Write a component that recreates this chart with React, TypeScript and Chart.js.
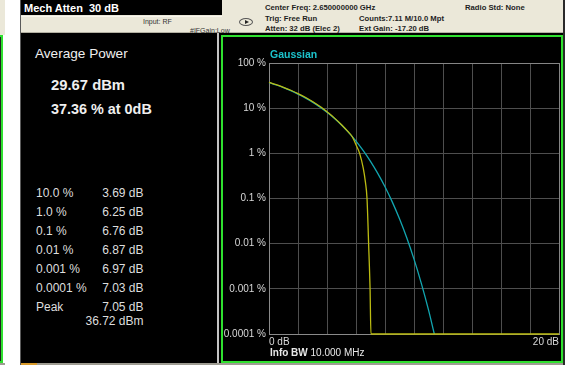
import React, { useEffect, useRef } from "react";
import { Chart, registerables } from "chart.js";

Chart.register(...registerables);

const FONT = "'Liberation Sans', Arial, Helvetica, sans-serif";

// Measured CCDF trace: power above average (dB) vs probability (%)
const traceDb = [0, 0.5, 1, 1.5, 2, 2.5, 3, 3.5, 4, 4.5, 5, 5.5, 5.75, 6.0, 6.5, 6.65];
const tracePct = [37.36, 33.2, 29.0, 24.9, 21.0, 17.4, 14.0, 11.0, 8.3, 6.1, 4.3, 2.9, 2.3, 1.55, 0.47, 0.23];

// CCDF statistics table (probability -> dB above average)
const ccdfPct = [10, 1, 0.1, 0.01, 0.001, 0.0001];
const ccdfPctLabels = ["10.0 %", "1.0 %", "0.1 %", "0.01 %", "0.001 %", "0.0001 %"];
const ccdfDb = [3.69, 6.25, 6.76, 6.87, 6.97, 7.03];
const peakDb = 7.05;
const peakDbm = 36.72;
const avgPowerDbm = 29.67;

// Gaussian reference trace
const gaussDb = [0, 0.5, 1, 1.5, 2, 2.5, 3, 3.5, 4, 4.5, 5, 5.5, 6, 6.5, 7, 7.5, 8, 8.5, 9, 9.5, 10, 10.5, 11, 11.4];
const gaussPct = [36.79, 32.56, 28.4, 24.35, 20.5, 16.89, 13.6, 10.66, 8.11, 5.97, 4.23, 2.88, 1.87, 1.15, 0.666, 0.361, 0.182, 0.0842, 0.0355, 0.0135, 0.00454, 0.00134, 0.000341, 0.0001];

// Axes
const xMin = 0;
const xMax = 20;
const xStep = 2;
const xLabelValues = [0, 20];
const xLabelTexts = ["0 dB", "20 dB"];
const yTicks = [100, 10, 1, 0.1, 0.01, 0.001, 0.0001];
const yTickLabels = ["100 %", "10 %", "1 %", "0.1 %", "0.01 %", "0.001 %", "0.0001 %"];

// Instrument header
const headerCol1 = ["Center Freq: 2.650000000 GHz", "Trig: Free Run", "Atten: 32 dB (Elec 2)"];
const headerCol2 = ["Counts:7.11 M/10.0 Mpt", "Ext Gain: -17.20 dB"];
const radioStd = "Radio Std: None";

type TxtProps = {
  x: number;
  y: number;
  size: number;
  bold?: boolean;
  color: string;
  align?: "left" | "right";
  children: React.ReactNode;
};

function Txt({ x, y, size, bold, color, align = "left", children }: TxtProps) {
  const style: React.CSSProperties = {
    position: "absolute",
    top: y - 0.49 * size,
    fontSize: size,
    lineHeight: 1,
    fontWeight: bold ? "bold" : "normal",
    color,
    whiteSpace: "pre",
    fontFamily: FONT,
  };
  if (align === "right") style.right = 568 - x;
  else style.left = x;
  return <div style={style}>{children}</div>;
}

function Box(props: { x: number; y: number; w: number; h: number; style?: React.CSSProperties }) {
  return (
    <div
      style={{
        position: "absolute",
        left: props.x,
        top: props.y,
        width: props.w,
        height: props.h,
        boxSizing: "border-box",
        ...props.style,
      }}
    />
  );
}

function CcdfChart() {
  const ref = useRef<HTMLCanvasElement | null>(null);

  useEffect(() => {
    const canvas = ref.current;
    if (!canvas) return;

    const measured = [
      ...traceDb.map((x, i) => ({ x, y: tracePct[i] })),
      ...ccdfDb.map((x, i) => ({ x, y: ccdfPct[i] })),
      { x: peakDb, y: yTicks[yTicks.length - 1] },
      { x: xMax, y: yTicks[yTicks.length - 1] },
    ].sort((a, b) => a.x - b.x);
    const gaussian = gaussDb.map((x, i) => ({ x, y: gaussPct[i] }));

    const textPlugin = {
      id: "panelText",
      afterDraw(chart: any) {
        const { ctx, chartArea } = chart;
        ctx.save();
        ctx.textBaseline = "middle";
        ctx.textAlign = "left";
        ctx.font = `bold 10.5px ${FONT}`;
        ctx.fillStyle = "#1cc3cc";
        ctx.fillText("Gaussian", chartArea.left + 1, chartArea.top - 8);

        const y = chartArea.bottom + 19;
        ctx.font = `bold 10px ${FONT}`;
        ctx.fillStyle = "#e8e8e8";
        const head = "Info BW ";
        ctx.fillText(head, chartArea.left + 1, y);
        const w = ctx.measureText(head).width;
        ctx.font = `10px ${FONT}`;
        ctx.fillText("10.000 MHz", chartArea.left + 1 + w, y);
        ctx.restore();
      },
    };

    const chart = new Chart(canvas, {
      type: "line",
      data: {
        datasets: [
          {
            label: "Measured",
            data: measured,
            borderColor: "#bcbc12",
            borderWidth: 1.3,
            pointRadius: 0,
            cubicInterpolationMode: "monotone",
            clip: 3,
            order: 0,
          },
          {
            label: "Gaussian",
            data: gaussian,
            borderColor: "#12a6b0",
            borderWidth: 1.3,
            pointRadius: 0,
            cubicInterpolationMode: "monotone",
            clip: 3,
            order: 1,
          },
        ],
      },
      options: {
        animation: false,
        responsive: false,
        events: [],
        layout: { padding: { top: 26, right: 0, bottom: 0, left: 0 } },
        plugins: { legend: { display: false }, tooltip: { enabled: false } },
        scales: {
          x: {
            type: "linear",
            min: xMin,
            max: xMax,
            afterFit: (s: any) => {
              s.height = 27;
            },
            ticks: {
              stepSize: xStep,
              autoSkip: false,
              maxRotation: 0,
              align: "inner",
              padding: 2,
              color: "#d8d8d8",
              font: { family: FONT, size: 10 },
              callback: (v: any) => {
                const i = xLabelValues.indexOf(Number(v));
                return i >= 0 ? xLabelTexts[i] : "";
              },
            },
            grid: {
              drawTicks: false,
              color: (c: any) => (c.tick && c.tick.value === xMax ? "#858585" : "#4e4e4e"),
              lineWidth: 1,
            },
            border: { color: "#8a8a8a", width: 1 },
          },
          y: {
            type: "logarithmic",
            min: yTicks[yTicks.length - 1],
            max: yTicks[0],
            afterBuildTicks: (s: any) => {
              s.ticks = yTicks.map((value) => ({ value }));
            },
            afterFit: (s: any) => {
              s.width = 46;
            },
            ticks: {
              padding: 3,
              color: "#d8d8d8",
              font: { family: FONT, size: 10 },
              callback: (v: any) => {
                const i = yTicks.indexOf(Number(v));
                return i >= 0 ? yTickLabels[i] : "";
              },
            },
            grid: {
              drawTicks: false,
              color: (c: any) => (c.tick && c.tick.value === yTicks[0] ? "#858585" : "#4e4e4e"),
              lineWidth: 1,
            },
            border: { color: "#8a8a8a", width: 1 },
          },
        },
      } as any,
      plugins: [textPlugin],
    });

    return () => chart.destroy();
  }, []);

  return (
    <canvas
      ref={ref}
      width={338}
      height={324}
      style={{ position: "absolute", left: 223, top: 37, width: 338, height: 324, background: "#000" }}
    />
  );
}

export default function App() {
  const beige = "#ebe8d9";
  const dark = "#1e1e1e";
  const panelWhite = "#efefef";
  const tableGray = "#dedede";
  const rowY0 = 192.7;
  const rowStep = 19;

  return (
    <div
      style={{
        position: "fixed",
        left: 0,
        top: 0,
        width: 568,
        height: 365,
        background: "#fff",
        overflow: "hidden",
        fontFamily: FONT,
      }}
    >
      {/* neighbouring window edge */}
      <Box x={0} y={0} w={5} h={35} style={{ background: beige }} />
      <Box x={-4} y={35} w={7} h={328} style={{ background: "#202020", border: "2px solid #2fe02f" }} />
      <Box x={0} y={363} w={5} h={2} style={{ background: "#9e9c92" }} />

      {/* instrument screen frame */}
      <Box x={20} y={0} w={1} h={365} style={{ background: "#5a5a5a" }} />
      <Box x={563} y={0} w={2} h={365} style={{ background: "#2a2a2a" }} />

      {/* header bar */}
      <Box x={21} y={0} w={542} h={33} style={{ background: beige }} />
      <Box x={21} y={32} w={542} h={1} style={{ background: "#b3b0a2" }} />
      <Box x={21} y={16} w={201} h={1} style={{ background: "#f8f6ee" }} />
      <Box x={21} y={0} w={201} h={15} style={{ background: "#000" }} />
      <Txt x={24} y={8} size={11} bold color="#ffffff">
        {"Mech Atten  30 dB"}
      </Txt>
      <Txt x={143} y={21} size={7} color="#333">
        Input: RF
      </Txt>
      <Txt x={190} y={30} size={7} color="#333">
        #IFGain:Low
      </Txt>
      {/* trigger icon */}
      <Box x={239} y={18} w={14} h={8} style={{ border: "1px solid #555", borderRadius: "50%" }} />
      <div
        style={{
          position: "absolute",
          left: 245,
          top: 20,
          width: 0,
          height: 0,
          borderTop: "2.5px solid transparent",
          borderBottom: "2.5px solid transparent",
          borderLeft: "4px solid #222",
        }}
      />
      {headerCol1.map((t, i) => (
        <Txt key={t} x={265} y={8 + i * 10.5} size={7.7} bold color={dark}>
          {t}
        </Txt>
      ))}
      {headerCol2.map((t, i) => (
        <Txt key={t} x={359} y={18.5 + i * 10.5} size={7.7} bold color={dark}>
          {t}
        </Txt>
      ))}
      <Txt x={465} y={8} size={7.7} bold color={dark}>
        {radioStd}
      </Txt>

      {/* display area */}
      <Box x={21} y={33} w={542} h={330} style={{ background: "#000" }} />
      <Box x={21} y={363} w={542} h={2} style={{ background: "#9e9c92" }} />
      <Box x={21} y={363} w={16} h={2} style={{ background: "#d89a2a" }} />

      {/* statistics panel */}
      <Txt x={35} y={54} size={13.6} color={panelWhite}>
        Average Power
      </Txt>
      <Txt x={51} y={85} size={14.8} bold color={panelWhite}>
        {`${avgPowerDbm.toFixed(2)} dBm`}
      </Txt>
      <Txt x={51} y={109.3} size={14.4} bold color={panelWhite}>
        {`${tracePct[0].toFixed(2)} % at 0dB`}
      </Txt>
      {ccdfPctLabels.map((lab, i) => (
        <React.Fragment key={lab}>
          <Txt x={36} y={rowY0 + i * rowStep} size={12} color={tableGray}>
            {lab}
          </Txt>
          <Txt x={143.5} y={rowY0 + i * rowStep} size={12} color={tableGray} align="right">
            {`${ccdfDb[i].toFixed(2)} dB`}
          </Txt>
        </React.Fragment>
      ))}
      <Txt x={36} y={rowY0 + 6 * rowStep} size={12} color={tableGray}>
        Peak
      </Txt>
      <Txt x={143.5} y={rowY0 + 6 * rowStep} size={12} color={tableGray} align="right">
        {`${peakDb.toFixed(2)} dB`}
      </Txt>
      <Txt x={143.5} y={rowY0 + 6 * rowStep + 14.3} size={12} color={tableGray} align="right">
        {`${peakDbm.toFixed(2)} dBm`}
      </Txt>

      {/* divider and trace window */}
      <Box x={217} y={33} w={2} h={330} style={{ background: "#c4c4c4" }} />
      <Box x={221} y={35} w={342} h={328} style={{ border: "2px solid #2fe02f", background: "#000" }} />
      <CcdfChart />
    </div>
  );
}
